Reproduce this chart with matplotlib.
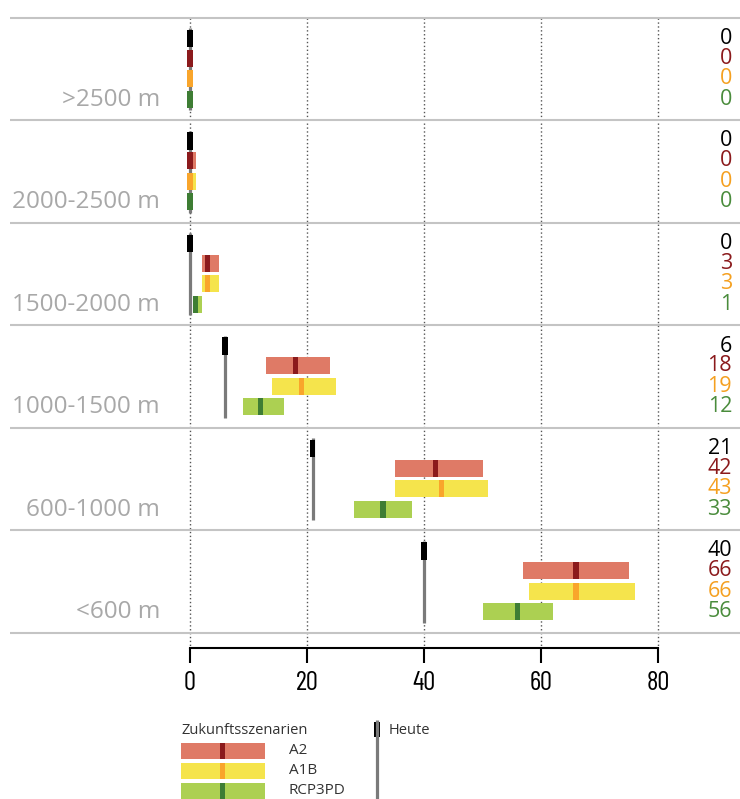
import matplotlib
matplotlib.use("Agg")
from matplotlib import pyplot as plt

# Höhenstufen (oben nach unten) und Werte
bands = [">2500 m", "2000-2500 m", "1500-2000 m", "1000-1500 m", "600-1000 m", "<600 m"]
heute = [0, 0, 0, 6, 21, 40]

a2_med = [0, 0, 3, 18, 42, 66]
a2_lo = [0, 0, 2, 13, 35, 57]
a2_hi = [0, 1, 5, 24, 50, 75]

a1b_med = [0, 0, 3, 19, 43, 66]
a1b_lo = [0, 0, 2, 14, 35, 58]
a1b_hi = [0, 1, 5, 25, 51, 76]

rcp_med = [0, 0, 1, 12, 33, 56]
rcp_lo = [0, 0, 0.5, 9, 28, 50]
rcp_hi = [0, 0.3, 2, 16, 38, 62]

ticks = [0, 20, 40, 60, 80]
scen_names = ["A2", "A1B", "RCP3PD"]

W, H = 740, 799
X0PX, XSC = 190, 5.85      # pixel of x=0, pixels per unit
Y0PX, PANEL = 18, 102.5    # top of first panel, panel height in px


def px_axes(fig, x0, y0, x1, y1):
    return fig.add_axes([x0 / W, 1 - y1 / H, (x1 - x0) / W, (y1 - y0) / H])


def main():
    plt.rcParams["font.family"] = ["Open Sans", "DejaVu Sans"]
    fig = plt.figure(figsize=(W / 100, H / 100), dpi=100)

    scen = [
        (a2_lo, a2_hi, a2_med, "#df7a66", "#8b1a1c", 0.395),
        (a1b_lo, a1b_hi, a1b_med, "#f5e44c", "#f9a52b", 0.595),
        (rcp_lo, rcp_hi, rcp_med, "#acd052", "#3e7d34", 0.795),
    ]
    num_colors = ["black", "#8b1a1c", "#f5a020", "#4a8c3c"]
    bh = 0.166

    ax = px_axes(fig, 0, 8, 740, 656)
    ax.set_xlim((0 - X0PX) / XSC, (W - X0PX) / XSC)
    ax.set_ylim((656 - Y0PX) / PANEL, (8 - Y0PX) / PANEL)
    ax.axis("off")

    ax.vlines(ticks, 0, (648 - Y0PX) / PANEL, color="#555555", lw=1,
              linestyles=(0, (1, 1.8)), zorder=1)
    ax.hlines(range(len(bands) + 1), (10 - X0PX) / XSC, (W - X0PX) / XSC,
              color="#c4c4c4", lw=1.5, zorder=1)

    for i, band in enumerate(bands):
        # Heute
        ax.vlines(heute[i], i + 0.1, i + 0.9, color="#7a7a7a", lw=2.3, zorder=2)
        ax.barh(i + 0.2, 0.9, left=heute[i] - 0.45, height=bh,
                color="black", zorder=4)
        ax.text((732 - X0PX) / XSC, i + 0.2, str(heute[i]), ha="right",
                va="center", fontsize=15.5, color=num_colors[0])
        for k, (lo, hi, med, light, dark, row) in enumerate(scen):
            ax.barh(i + row, hi[i] - lo[i], left=lo[i], height=bh,
                    color=light, zorder=3)
            ax.barh(i + row, 0.9, left=med[i] - 0.45, height=bh,
                    color=dark, zorder=4)
            ax.text((732 - X0PX) / XSC, i + row, str(med[i]), ha="right",
                    va="center", fontsize=15.5, color=num_colors[k + 1])
        ax.text((160 - X0PX) / XSC, i + 0.8, band, ha="right", va="center",
                fontsize=17.5, color="#a8a8a8")

    # x-Achse
    axb = px_axes(fig, X0PX, 600, X0PX + 80 * XSC, 648)
    axb.set_xlim(0, 80)
    axb.patch.set_visible(False)
    for s in ["left", "right", "top"]:
        axb.spines[s].set_visible(False)
    axb.spines["bottom"].set_linewidth(1.5)
    axb.set_yticks([])
    axb.set_xticks(ticks)
    axb.set_xticklabels([str(t) for t in ticks],
                        family=["Barlow Condensed", "DejaVu Sans"])
    axb.tick_params(axis="x", direction="out", length=10.8, width=1.5,
                    labelsize=19.5, pad=6)

    # Legende
    axl = px_axes(fig, 170, 710, 470, 799)
    axl.set_xlim(170, 470)
    axl.set_ylim(799, 710)
    axl.axis("off")
    axl.text(181, 731, "Zukunftsszenarien", va="center", fontsize=10.5,
             color="#333333")
    for k, (lo, hi, med, light, dark, row) in enumerate(scen):
        y = 751 + 20 * k
        axl.barh(y, 84, left=181, height=16, color=light)
        axl.barh(y, 5.3, left=219.5, height=16, color=dark)
        axl.text(289, y, scen_names[k], va="center", fontsize=11,
                 color="#333333")
    axl.vlines(377, 720, 799, color="#7a7a7a", lw=2.3)
    axl.barh(729.5, 5.3, left=374.3, height=15, color="black")
    axl.text(389, 731, "Heute", va="center", fontsize=10.5, color="#333333")

    fig.savefig("out.png", dpi=100)


if __name__ == "__main__":
    main()
